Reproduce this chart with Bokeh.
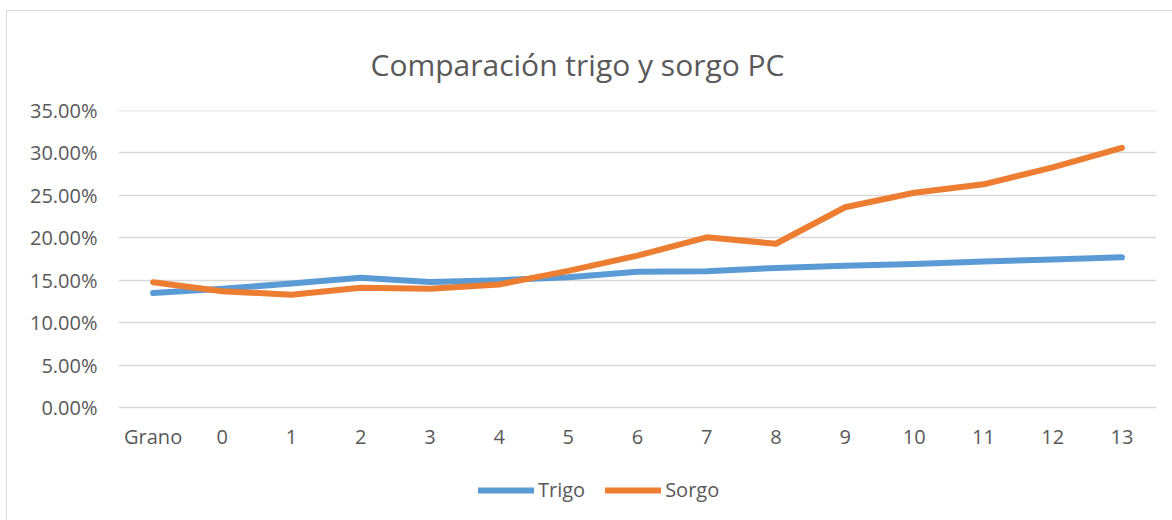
from bokeh.plotting import figure
from bokeh.layouts import column
from bokeh.models import FactorRange, Range1d, NumeralTickFormatter, Legend, LegendItem, FixedTicker
from bokeh.embed import file_html
from bokeh.resources import INLINE

categories = ["Grano", "0", "1", "2", "3", "4", "5", "6", "7", "8", "9", "10", "11", "12", "13"]
trigo = [0.135, 0.140, 0.146, 0.153, 0.148, 0.150, 0.1535, 0.160, 0.1605, 0.1645, 0.167, 0.169, 0.172, 0.1745, 0.177]
sorgo = [0.1476, 0.137, 0.133, 0.141, 0.140, 0.145, 0.161, 0.179, 0.2005, 0.193, 0.236, 0.253, 0.263, 0.283, 0.306]
yticks = [0.0, 0.05, 0.10, 0.15, 0.20, 0.25, 0.30, 0.35]
series_names = ["Trigo", "Sorgo"]
series_colors = ["#5B9BD5", "#ED7D31"]

FONT = "Open Sans"
TXT = "#595959"
GRID = "#D9D9D9"

W = 1165
H1 = 450
H2 = 59

p = figure(x_range=FactorRange(*categories, range_padding=0), y_range=Range1d(0, 0.3500001),
           width=W, height=H1, output_backend="svg", toolbar_location=None,
           min_border_left=111, min_border_right=16, min_border_top=99, min_border_bottom=H1 - 396)

p.title.text = "Comparación trigo y sorgo PC"
p.title.text_font = FONT
p.title.text_font_size = "30px"
p.title.text_font_style = "normal"
p.title.text_color = TXT
p.title.align = "left"
p.title.offset = 252
p.title.standoff = 52

for vals, c in zip([trigo, sorgo], series_colors):
    p.line(categories, vals, line_color=c, line_width=6, line_cap="round", line_join="round")

p.outline_line_color = None
p.xgrid.grid_line_color = None
p.ygrid.grid_line_color = GRID
p.ygrid.grid_line_width = 1.5

p.yaxis.ticker = FixedTicker(ticks=yticks)
p.yaxis.formatter = NumeralTickFormatter(format="0.00%")
p.yaxis.axis_line_color = None
p.yaxis.major_tick_line_color = None
p.yaxis.minor_tick_line_color = None
p.yaxis.major_tick_in = 0
p.yaxis.major_tick_out = 0
p.yaxis.major_label_standoff = 21
p.yaxis.major_label_text_font = FONT
p.yaxis.major_label_text_font_size = "20px"
p.yaxis.major_label_text_color = TXT

p.xaxis.axis_line_color = GRID
p.xaxis.axis_line_width = 1.5
p.xaxis.major_tick_line_color = None
p.xaxis.minor_tick_line_color = None
p.xaxis.major_tick_in = 0
p.xaxis.major_tick_out = 0
p.xaxis.major_label_standoff = 15
p.xaxis.major_label_text_font = FONT
p.xaxis.major_label_text_font_size = "20px"
p.xaxis.major_label_text_color = TXT

# legend strip (series drawn out of view; only the legend is visible)
p2 = figure(x_range=FactorRange(*categories, range_padding=0), y_range=Range1d(1, 2), width=W, height=H2,
            output_backend="svg", toolbar_location=None, x_axis_type=None, y_axis_type=None,
            min_border_left=0, min_border_right=0, min_border_top=0, min_border_bottom=0)
p2.outline_line_color = None
p2.xgrid.grid_line_color = None
p2.ygrid.grid_line_color = None
items = []
for name, vals, c in zip(series_names, [trigo, sorgo], series_colors):
    r = p2.line(categories, vals, line_color=c, line_width=6, line_cap="round")
    items.append(LegendItem(label=name, renderers=[r]))

legend = Legend(items=items, orientation="horizontal", location=(360, 17))
legend.label_text_font = FONT
legend.label_text_font_size = "20px"
legend.label_text_color = TXT
legend.glyph_width = 56
legend.glyph_height = 20
legend.label_standoff = 4
legend.spacing = 20
legend.border_line_color = None
legend.background_fill_alpha = 0
legend.margin = 0
legend.padding = 6
p2.add_layout(legend, "center")

layout = column(p, p2, spacing=0)
layout.styles = {"margin-left": "6px", "margin-top": "10px",
                 "border-left": "1px solid #D9D9D9", "border-top": "1px solid #D9D9D9"}

open("out.html", "w").write(file_html(layout, INLINE))
